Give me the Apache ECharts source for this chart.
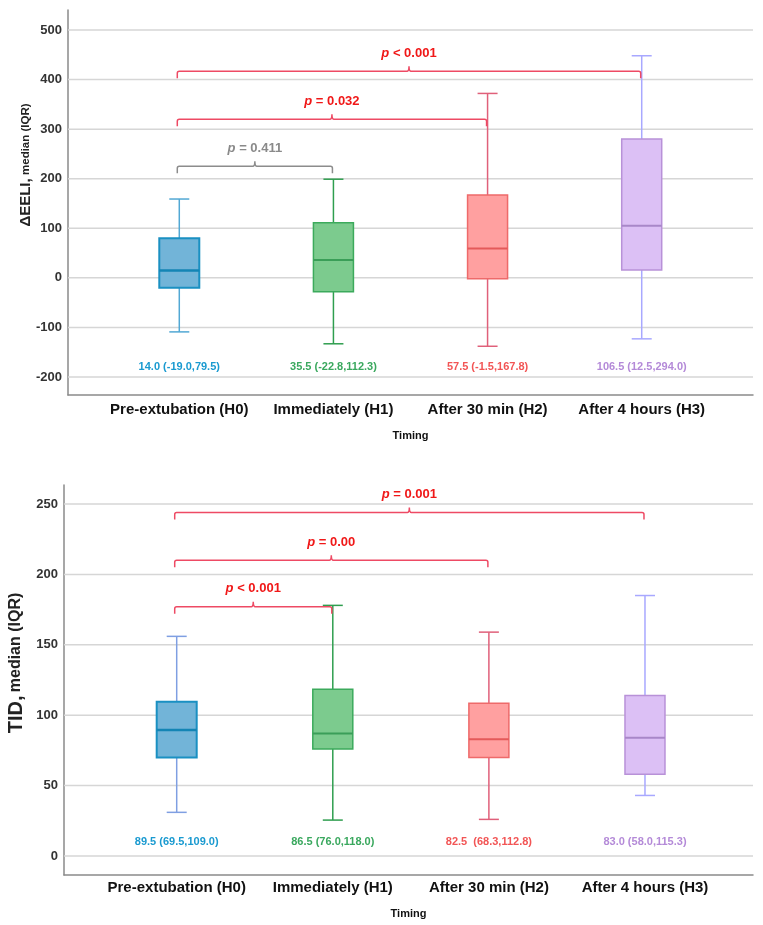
<!DOCTYPE html>
<html>
<head>
<meta charset="utf-8">
<script src="https://cdn.jsdelivr.net/npm/echarts@6/dist/echarts.min.js"></script>
<style>
  html, body { margin: 0; padding: 0; background: #fff; }
  #chart { width: 763px; height: 925px; }
</style>
</head>
<body>
<div id="chart"></div>
<script>
const timing = ['Pre-extubation (H0)', 'Immediately (H1)', 'After 30 min (H2)', 'After 4 hours (H3)'];

// ΔEELI boxes: [lower whisker, Q1, median, Q3, upper whisker]
const eeliBox = [
  [-109, -20, 15, 80, 159],
  [-133, -28, 36, 111, 199],
  [-138, -2, 59, 167, 372],
  [-123, 16, 105, 280, 448]
];
const eeliText = ['14.0 (-19.0,79.5)', '35.5 (-22.8,112.3)', '57.5 (-1.5,167.8)', '106.5 (12.5,294.0)'];
const eeliTicks = [-200, -100, 0, 100, 200, 300, 400, 500];
// comparisons: [from group, to group, bracket level]
const eeliPairs = [[0, 3, 417], [0, 2, 320], [0, 1, 225]];
const eeliP = ['< 0.001', '= 0.032', '= 0.411'];
const eeliSig = [true, true, false];

// TID boxes
const tidBox = [
  [31, 70, 89.5, 109.5, 156],
  [25.5, 76, 87, 118.5, 178],
  [26, 70, 83, 108.5, 159],
  [43, 58, 84, 114, 185]
];
const tidText = ['89.5 (69.5,109.0)', '86.5 (76.0,118.0)', '82.5  (68.3,112.8)', '83.0 (58.0,115.3)'];
const tidTicks = [0, 50, 100, 150, 200, 250];
const tidPairs = [[0, 3, 244], [0, 2, 210], [0, 1, 177]];
const tidP = ['= 0.001', '= 0.00', '< 0.001'];
const tidSig = [true, true, true];

const FONT = '"Liberation Sans", Arial, sans-serif';

const topColors = [
  { fill: '#72b4d8', stroke: '#1a90c2', whisker: '#52a8d4', median: '#1485b5', text: '#1a9ad0', w: 2 },
  { fill: '#7ccb8e', stroke: '#3caa5c', whisker: '#2f9e4f', median: '#3a9e58', text: '#3aa85e', w: 1.5 },
  { fill: '#ffa0a0', stroke: '#ee6a6a', whisker: '#e0607a', median: '#e45a5a', text: '#f25555', w: 1.5 },
  { fill: '#dcc0f5', stroke: '#b891d8', whisker: '#a8a8ff', median: '#a887c8', text: '#b48ad8', w: 1.5 }
];
const bottomColors = topColors.map((c, i) => i === 0 ? Object.assign({}, c, { whisker: '#7f9fe2' }) : c);

function boxRender(texts, annotY, colors) {
  return function (params, api) {
    const i = api.value(0);
    const lo = api.coord([i, api.value(1)]);
    const q1 = api.coord([i, api.value(2)]);
    const md = api.coord([i, api.value(3)]);
    const q3 = api.coord([i, api.value(4)]);
    const hi = api.coord([i, api.value(5)]);
    const at = api.coord([i, annotY]);
    const x = lo[0];
    const bw = 40, cw = 20;
    const c = colors[i];
    const wStyle = { stroke: c.whisker, lineWidth: 1.5 };
    return {
      type: 'group',
      children: [
        { type: 'line', shape: { x1: x, y1: hi[1], x2: x, y2: q3[1] }, style: wStyle },
        { type: 'line', shape: { x1: x, y1: q1[1], x2: x, y2: lo[1] }, style: wStyle },
        { type: 'line', shape: { x1: x - cw / 2, y1: hi[1], x2: x + cw / 2, y2: hi[1] }, style: wStyle },
        { type: 'line', shape: { x1: x - cw / 2, y1: lo[1], x2: x + cw / 2, y2: lo[1] }, style: wStyle },
        {
          type: 'rect',
          shape: { x: x - bw / 2, y: q3[1], width: bw, height: q1[1] - q3[1] },
          style: { fill: c.fill, stroke: c.stroke, lineWidth: c.w }
        },
        {
          type: 'line',
          shape: { x1: x - bw / 2, y1: md[1], x2: x + bw / 2, y2: md[1] },
          style: { stroke: c.median, lineWidth: c.w + 0.5 }
        },
        {
          type: 'text', x: x, y: at[1],
          style: {
            text: texts[i], fill: c.text, font: 'bold 11px ' + FONT,
            align: 'center', verticalAlign: 'middle'
          }
        }
      ]
    };
  };
}

function gridRender(params, api) {
  const cs = params.coordSys;
  const p = api.coord([0, api.value(0)]);
  return {
    type: 'line',
    shape: { x1: cs.x, y1: p[1], x2: cs.x + cs.width, y2: p[1] },
    style: { stroke: '#d6d6d6', lineWidth: 1.5 }
  };
}

function bracketRender(pTexts, sig) {
  return function (params, api) {
    const a = api.coord([api.value(0), api.value(2)]);
    const b = api.coord([api.value(1), api.value(2)]);
    const y = a[1];
    const x0 = a[0] - 2, x1 = b[0] - 1;
    const mid = (x0 + x1) / 2;
    const red = sig[params.dataIndex];
    const lineCol = red ? '#ee4a64' : '#8c8c8c';
    const txtCol = red ? '#f01818' : '#8a8a8a';
    const path = 'M' + x0 + ',' + (y + 7) + ' L' + x0 + ',' + (y + 2) +
      ' Q' + x0 + ',' + y + ' ' + (x0 + 2) + ',' + y +
      ' L' + (mid - 2) + ',' + y +
      ' Q' + mid + ',' + y + ' ' + mid + ',' + (y - 5) +
      ' Q' + mid + ',' + y + ' ' + (mid + 2) + ',' + y +
      ' L' + (x1 - 2) + ',' + y +
      ' Q' + x1 + ',' + y + ' ' + x1 + ',' + (y + 2) +
      ' L' + x1 + ',' + (y + 7);
    return {
      type: 'group',
      children: [
        {
          type: 'path',
          shape: { pathData: path },
          style: { stroke: lineCol, lineWidth: 1.5, fill: null }
        },
        {
          type: 'text', x: mid, y: y - 18,
          style: {
            text: '{i|p}{n| ' + pTexts[params.dataIndex] + '}',
            align: 'center', verticalAlign: 'middle',
            rich: {
              i: { fontFamily: FONT, fontSize: 13, fontWeight: 'bold', fontStyle: 'italic', fill: txtCol },
              n: { fontFamily: FONT, fontSize: 13, fontWeight: 'bold', fill: txtCol }
            }
          }
        }
      ]
    };
  };
}

function xAxisOpt(gridIndex, min, max, nameGap, labelMargin) {
  return {
    type: 'value', gridIndex: gridIndex, min: min, max: max,
    name: 'Timing', nameLocation: 'middle', nameGap: nameGap,
    nameTextStyle: { fontFamily: FONT, fontWeight: 'bold', fontSize: 11, color: '#111' },
    axisLine: { onZero: false, lineStyle: { color: '#8a8a8a', width: 1.5 } },
    axisTick: { show: false },
    splitLine: { show: false },
    axisLabel: {
      customValues: [0, 1, 2, 3],
      formatter: (v) => timing[v],
      margin: labelMargin,
      fontFamily: FONT, fontWeight: 'bold', fontSize: 15, color: '#111'
    }
  };
}

function yAxisOpt(gridIndex, min, max, ticks) {
  return {
    type: 'value', gridIndex: gridIndex, min: min, max: max,
    axisLine: { show: true, onZero: false, lineStyle: { color: '#8a8a8a', width: 1.5 } },
    axisTick: { show: false },
    splitLine: { show: false },
    axisLabel: {
      customValues: ticks,
      margin: 6,
      fontFamily: FONT, fontWeight: 'bold', fontSize: 13, color: '#333'
    }
  };
}

const chart = echarts.init(document.getElementById('chart'), null, { renderer: 'canvas' });

chart.setOption({
  animation: false,
  backgroundColor: '#fff',
  grid: [
    { left: 68, top: 10, right: 10, height: 385 },
    { left: 64, top: 485, right: 10, height: 390 }
  ],
  xAxis: [
    xAxisOpt(0, -0.722, 3.722, 35, 7),
    xAxisOpt(1, -0.722, 3.692, 33, 5)
  ],
  yAxis: [
    yAxisOpt(0, -236.3, 540.3, eeliTicks),
    yAxisOpt(1, -13.5, 263.5, tidTicks)
  ],
  graphic: [
    {
      type: 'text', x: 26, y: 165, rotation: Math.PI / 2,
      style: {
        text: '{a|ΔEELI,} {b|median (IQR)}', align: 'center', verticalAlign: 'middle',
        rich: {
          a: { fontFamily: FONT, fontWeight: 'bold', fontSize: 15, fill: '#222' },
          b: { fontFamily: FONT, fontWeight: 'bold', fontSize: 11.5, fill: '#222' }
        }
      }
    },
    {
      type: 'text', x: 16, y: 663, rotation: Math.PI / 2,
      style: {
        text: '{a|TID,} {b|median (IQR)}', align: 'center', verticalAlign: 'middle',
        rich: {
          a: { fontFamily: FONT, fontWeight: 'bold', fontSize: 20, fill: '#222' },
          b: { fontFamily: FONT, fontWeight: 'bold', fontSize: 16, fill: '#222' }
        }
      }
    }
  ],
  series: [
    {
      type: 'custom', xAxisIndex: 0, yAxisIndex: 0, z: 1, silent: true,
      data: eeliTicks.map((v) => [v]), encode: { y: 0 },
      renderItem: gridRender
    },
    {
      type: 'custom', xAxisIndex: 1, yAxisIndex: 1, z: 1, silent: true,
      data: tidTicks.map((v) => [v]), encode: { y: 0 },
      renderItem: gridRender
    },
    {
      type: 'custom', xAxisIndex: 0, yAxisIndex: 0, z: 3,
      data: eeliBox.map((b, i) => [i].concat(b)),
      encode: { x: 0, y: [1, 2, 3, 4, 5] },
      renderItem: boxRender(eeliText, -180, topColors)
    },
    {
      type: 'custom', xAxisIndex: 1, yAxisIndex: 1, z: 3,
      data: tidBox.map((b, i) => [i].concat(b)),
      encode: { x: 0, y: [1, 2, 3, 4, 5] },
      renderItem: boxRender(tidText, 10.2, bottomColors)
    },
    {
      type: 'custom', xAxisIndex: 0, yAxisIndex: 0, z: 4,
      data: eeliPairs, encode: { x: [0, 1], y: 2 },
      renderItem: bracketRender(eeliP, eeliSig)
    },
    {
      type: 'custom', xAxisIndex: 1, yAxisIndex: 1, z: 4,
      data: tidPairs, encode: { x: [0, 1], y: 2 },
      renderItem: bracketRender(tidP, tidSig)
    }
  ]
});
</script>
</body>
</html>
